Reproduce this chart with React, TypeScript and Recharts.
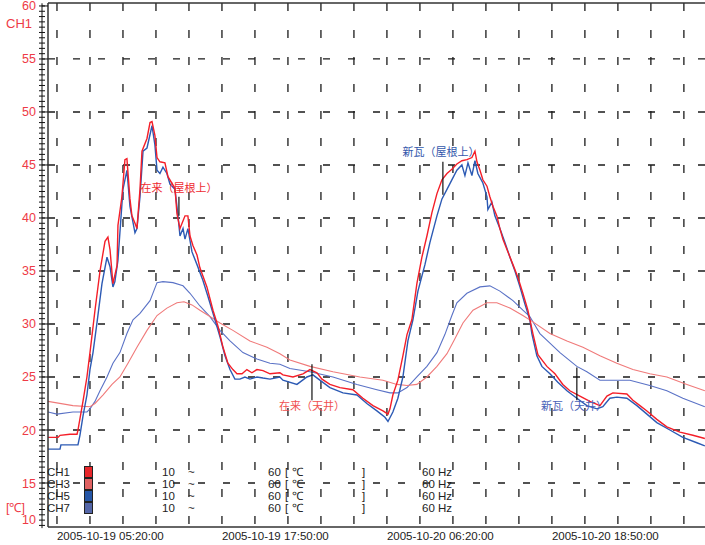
import {
  LineChart,
  Line,
  XAxis,
  YAxis,
  CartesianGrid,
  ReferenceLine,
  ReferenceDot,
} from "recharts";

// hours since 2005-10-19 05:20
const timeLabels = ["2005-10-19 05:20:00", "2005-10-19 17:50:00", "2005-10-20 06:20:00", "2005-10-20 18:50:00"];
const labelHours = [0, 12.5, 25, 37.5];
const gridHours = [0, 2.5, 5, 7.5, 10, 12.5, 15, 17.5, 20, 22.5, 25, 27.5, 30, 32.5, 35, 37.5, 40, 42.5, 45, 47.5];
const gridTemps = [15, 20, 25, 30, 35, 40, 45, 50, 55];

// CH1 在来(屋根上)
const ch1Time = [-0.68, 0.08, 0.23, 0.98, 1.52, 1.59, 1.97, 2.27, 2.5, 2.88, 3.26, 3.64, 3.86, 4.02, 4.24, 4.55, 4.62, 4.92, 5.15, 5.3, 5.53, 5.68, 5.91, 6.06, 6.29, 6.44, 6.82, 7.05, 7.2, 7.42, 7.58, 7.8, 8.18, 8.41, 8.94, 9.09, 9.32, 9.7, 9.92, 10.08, 10.3, 10.61, 10.83, 11.36, 11.82, 12.2, 12.58, 12.95, 13.33, 13.64, 14.02, 14.39, 14.77, 15.15, 15.61, 16.14, 16.89, 17.12, 17.88, 18.64, 19.17, 19.7, 20.08, 20.68, 21.44, 22.42, 23.18, 23.94, 24.7, 25.08, 25.23, 25.45, 25.83, 26.21, 26.52, 26.89, 27.27, 27.65, 28.03, 28.41, 28.79, 29.17, 29.55, 29.92, 30.3, 30.68, 31.06, 31.44, 31.67, 31.82, 32.05, 32.27, 32.58, 32.8, 33.03, 33.33, 33.56, 33.79, 34.17, 34.55, 34.92, 35.3, 35.68, 36.06, 36.44, 37.12, 37.73, 38.33, 38.86, 39.62, 40.38, 41.14, 41.67, 42.12, 43.18, 43.64, 44.17, 44.7, 45.45, 46.21, 47.2, 48.18, 49.09];
const ch1Temp = [19.3, 19.3, 19.5, 19.6, 19.6, 20.0, 22.7, 25.0, 27.3, 31.3, 35.0, 37.8, 38.2, 37.0, 33.8, 35.5, 39.3, 42.0, 45.5, 45.6, 41.8, 40.2, 39.5, 39.0, 42.7, 46.3, 47.5, 49.0, 49.1, 47.8, 45.7, 45.3, 45.2, 43.9, 42.8, 40.4, 39.0, 40.2, 40.2, 38.3, 37.4, 36.5, 35.3, 33.5, 31.3, 29.8, 27.8, 26.3, 25.7, 25.3, 25.3, 25.7, 25.4, 25.7, 25.6, 25.3, 25.4, 25.2, 25.0, 25.3, 25.7, 25.4, 24.8, 24.3, 24.0, 23.8, 23.0, 22.3, 21.8, 21.5, 22.0, 23.3, 24.7, 27.0, 29.0, 30.4, 33.8, 36.3, 38.3, 40.5, 42.3, 43.6, 44.2, 44.6, 45.1, 45.4, 45.5, 45.7, 46.3, 45.3, 44.5, 43.6, 43.0, 42.0, 41.1, 40.2, 39.0, 38.0, 36.8, 35.6, 34.4, 32.9, 31.3, 29.1, 27.1, 26.0, 25.3, 24.3, 23.7, 23.2, 22.7, 22.3, 23.2, 23.5, 23.4, 22.8, 22.3, 21.8, 21.0, 20.3, 19.8, 19.5, 19.2];

// CH3 在来(天井)
const ch3Time = [-0.68, 1.21, 2.5, 2.88, 3.48, 4.17, 4.77, 5.38, 6.06, 6.82, 7.58, 8.33, 9.09, 9.62, 10.23, 10.83, 11.59, 12.35, 13.33, 14.62, 15.91, 16.89, 17.65, 19.17, 20.91, 22.95, 24.7, 25.76, 26.52, 27.27, 28.03, 28.79, 29.55, 30.15, 30.76, 31.52, 32.58, 33.33, 34.32, 35.3, 36.06, 37.35, 38.64, 39.85, 41.14, 42.42, 43.64, 44.92, 46.21, 47.73, 49.09];
const ch3Temp = [22.7, 22.3, 22.2, 22.5, 23.3, 24.3, 25.0, 26.3, 27.8, 29.4, 30.8, 31.5, 32.0, 32.1, 31.8, 31.3, 30.7, 30.1, 29.4, 28.4, 27.8, 27.2, 26.6, 26.0, 25.5, 25.0, 24.7, 24.3, 24.2, 24.3, 25.0, 26.0, 27.2, 28.6, 30.1, 31.3, 32.0, 32.0, 31.5, 30.8, 30.2, 29.1, 28.4, 27.8, 27.0, 26.3, 25.7, 25.3, 25.0, 24.3, 23.7];

// CH5 新瓦(屋根上)
const ch5Time = [-0.68, 0.23, 0.3, 1.59, 1.74, 1.97, 2.27, 2.5, 2.73, 3.03, 3.41, 3.79, 4.02, 4.24, 4.39, 4.62, 5.0, 5.3, 5.53, 5.91, 6.06, 6.29, 6.52, 6.82, 7.2, 7.42, 7.58, 7.8, 8.03, 8.33, 8.56, 8.94, 9.17, 9.32, 9.55, 9.7, 9.92, 10.23, 10.61, 11.06, 11.44, 11.97, 12.35, 12.73, 13.11, 13.48, 13.86, 14.24, 14.62, 15.15, 15.61, 16.14, 16.89, 17.12, 18.18, 18.94, 19.39, 19.92, 20.68, 21.67, 22.73, 23.48, 24.24, 24.85, 25.08, 25.45, 25.83, 26.21, 26.59, 26.97, 27.35, 27.88, 28.26, 28.79, 29.17, 29.55, 29.92, 30.3, 30.68, 30.91, 31.14, 31.44, 31.67, 31.89, 32.27, 32.58, 32.65, 32.95, 33.18, 33.56, 33.94, 34.32, 34.7, 35.08, 35.45, 35.83, 35.98, 36.36, 36.74, 37.35, 37.95, 38.64, 39.39, 40.15, 40.91, 41.36, 41.89, 42.42, 43.18, 43.94, 44.7, 45.45, 46.44, 47.42, 48.48, 49.09];
const ch5Temp = [18.2, 18.2, 18.6, 18.6, 19.5, 21.3, 23.3, 25.7, 27.3, 30.1, 33.8, 36.3, 35.4, 33.5, 34.0, 36.0, 42.7, 44.5, 41.1, 38.6, 39.0, 42.0, 46.3, 46.6, 48.7, 46.9, 44.5, 44.2, 44.8, 44.2, 43.2, 42.7, 40.2, 38.3, 39.0, 38.0, 39.0, 36.8, 35.6, 34.1, 32.6, 30.4, 28.8, 27.0, 25.7, 24.8, 24.8, 25.0, 24.8, 25.0, 24.9, 24.8, 25.0, 24.7, 24.3, 25.0, 25.2, 24.7, 24.0, 23.5, 23.3, 22.5, 21.8, 21.2, 20.8, 21.7, 23.0, 25.0, 28.4, 30.4, 33.1, 35.6, 37.7, 40.2, 41.8, 42.7, 43.6, 44.5, 45.0, 44.0, 45.2, 44.0, 45.4, 44.2, 43.3, 42.0, 40.8, 41.5, 40.2, 39.0, 37.7, 36.3, 35.0, 33.5, 31.9, 30.4, 29.1, 27.0, 26.0, 25.3, 24.5, 23.7, 23.0, 22.3, 22.0, 22.2, 23.0, 23.1, 23.0, 22.3, 21.5, 20.7, 20.0, 19.3, 18.8, 18.5];

// CH7 新瓦(天井)
const ch7Time = [-0.68, 0, 1.21, 2.27, 2.5, 2.88, 3.26, 3.79, 4.24, 4.77, 5.3, 5.76, 6.29, 7.05, 7.58, 8.03, 8.79, 9.55, 10.08, 10.83, 11.59, 12.35, 13.11, 14.09, 15.15, 16.14, 16.89, 17.65, 19.17, 20.91, 22.73, 24.24, 25.23, 25.83, 26.52, 27.27, 28.03, 28.79, 29.39, 29.92, 30.3, 31.06, 32.05, 32.8, 33.56, 34.55, 35.3, 35.83, 36.59, 37.35, 38.11, 39.39, 40.15, 41.14, 43.41, 44.92, 46.21, 47.42, 49.09];
const ch7Temp = [21.7, 21.5, 21.7, 21.7, 22.0, 22.7, 23.7, 25.0, 26.3, 27.3, 29.1, 30.4, 31.0, 32.2, 33.9, 34.0, 33.9, 33.6, 32.9, 31.7, 30.7, 29.4, 28.4, 27.3, 26.7, 26.3, 26.2, 25.8, 25.5, 25.0, 24.3, 23.8, 23.5, 23.5, 24.0, 25.0, 26.0, 27.3, 29.0, 30.8, 32.0, 32.9, 33.5, 33.6, 33.1, 32.2, 31.3, 30.7, 29.1, 28.2, 27.3, 26.0, 25.5, 24.7, 24.7, 24.2, 23.7, 23.0, 22.2];

const toRows = (t: number[], v: number[]) => t.map((x, i) => ({ t: x, v: v[i] }));

const channels = [
  { name: "CH1", key: "ch1", data: toRows(ch1Time, ch1Temp), line: "#f41e28", swatch: "#e8262a", width: 1.4 },
  { name: "CH3", key: "ch3", data: toRows(ch3Time, ch3Temp), line: "#f07a7a", swatch: "#e06262", width: 1.1 },
  { name: "CH5", key: "ch5", data: toRows(ch5Time, ch5Temp), line: "#2c5ab4", swatch: "#2656a6", width: 1.4 },
  { name: "CH7", key: "ch7", data: toRows(ch7Time, ch7Temp), line: "#5a72c6", swatch: "#5466a8", width: 1.1 },
];
const drawOrder = ["ch7", "ch3", "ch5", "ch1"];

const notes = [
  { text: "在来（屋根上）", color: "#ee2a30", x: 9.24, y: 42.8, lineX: 9.24, from: 42.0, to: 40.2 },
  { text: "新瓦（屋根上）", color: "#3358ac", x: 29.09, y: 46.2, lineX: 29.24, from: 45.3, to: 42.2 },
  { text: "在来（天井）", color: "#f05050", x: 19.32, y: 22.3, lineX: 19.32, from: 26.2, to: 22.8 },
  { text: "新瓦（天井）", color: "#4a62b8", x: 39.17, y: 22.3, lineX: 39.39, from: 25.9, to: 22.8 },
];

const yTicks: number[] = [];
for (let v = 11; v <= 60; v += 0.5) yTicks.push(v);

const Y_MIN = 10.85;
const Y_MAX = 60.28;
const sans = "'Liberation Sans', Arial, sans-serif";
const cjk = "'Noto Sans CJK JP', sans-serif";

function TempTick(props: any) {
  const { x, y, payload } = props;
  const v = payload.value;
  const major = v % 5 === 0;
  const ax = x - 6;
  return (
    <g>
      <line x1={ax} y1={y - 2.7} x2={ax} y2={y + 2.7} stroke="#111" strokeWidth={1} />
      <line x1={ax - 3} y1={y} x2={ax + 3} y2={y} stroke="#111" strokeWidth={1} />
      {major && <line x1={ax} y1={y} x2={x} y2={y} stroke="#111" strokeWidth={1} />}
      {major && (
        <text x={ax - 6} y={y} dy="0.36em" textAnchor="end" fill="#ee3a46" fontSize={12.5} fontFamily={sans}>
          {v}
        </text>
      )}
    </g>
  );
}

function TimeTick(props: any) {
  const { x, y, payload } = props;
  const i = labelHours.indexOf(payload.value);
  return (
    <text x={x} y={y} dy="0.75em" textAnchor="start" fill="#222" fontSize={11.5} fontFamily={sans}>
      {timeLabels[i]}
    </text>
  );
}

const legendRowTop = [466, 478, 490, 502];

export default function App() {
  return (
    <div style={{ position: "absolute", left: 0, top: 0, width: 705, height: 545, background: "#fff", overflow: "hidden" }}>
      <LineChart width={705} height={545} margin={{ top: 3, right: 0, left: 0, bottom: 0 }}>
        <CartesianGrid vertical={false} horizontalValues={gridTemps} stroke="#1a1a1a" strokeWidth={1.3} strokeDasharray="7 18" />
        <CartesianGrid horizontal={false} verticalValues={gridHours} stroke="#1a1a1a" strokeWidth={1.3} strokeDasharray="8 19" />
        <XAxis
          type="number"
          dataKey="t"
          domain={[-0.68, 49.1]}
          ticks={labelHours}
          interval={0}
          allowDataOverflow
          height={18}
          tickLine={false}
          tickSize={0}
          tickMargin={4}
          axisLine={{ stroke: "#333", strokeWidth: 1.5 }}
          tick={<TimeTick />}
        />
        <YAxis
          type="number"
          domain={[Y_MIN, Y_MAX]}
          ticks={yTicks}
          interval={0}
          allowDataOverflow
          width={48}
          tickLine={false}
          tickSize={0}
          tickMargin={0}
          axisLine={{ stroke: "#333", strokeWidth: 1.5 }}
          tick={<TempTick />}
        />
        <ReferenceLine y={Y_MAX} stroke="#333" strokeWidth={1.5} />
        {drawOrder.map((k) => {
          const c = channels.find((ch) => ch.key === k)!;
          return (
            <Line
              key={c.key}
              data={c.data}
              dataKey="v"
              type="linear"
              stroke={c.line}
              strokeWidth={c.width}
              dot={false}
              isAnimationActive={false}
            />
          );
        })}
        {notes.map((n) => (
          <ReferenceLine
            key={"l" + n.text}
            segment={[
              { x: n.lineX, y: n.from },
              { x: n.lineX, y: n.to },
            ]}
            stroke="#111"
            strokeWidth={1.2}
          />
        ))}
        {notes.map((n) => (
          <ReferenceDot
            key={"t" + n.text}
            x={n.x}
            y={n.y}
            r={0}
            stroke="none"
            fill="none"
            label={{ value: n.text, position: "center", fill: n.color, fontSize: 11, fontFamily: cjk }}
          />
        ))}
      </LineChart>

      <div style={{ position: "absolute", left: 6, top: 16, color: "#ee3a46", fontFamily: sans, fontSize: 13 }}>CH1</div>
      <div style={{ position: "absolute", left: 6, top: 499, color: "#ee3a46", fontFamily: sans, fontSize: 12.5 }}>[℃]</div>
      <div style={{ position: "absolute", left: 22, top: 513, color: "#ee3a46", fontFamily: sans, fontSize: 12.5 }}>10</div>

      {channels.map((c, i) => (
        <div key={c.key} style={{ position: "absolute", left: 0, top: legendRowTop[i], height: 12, width: 705, fontFamily: sans, fontSize: 11.5, color: "#222", lineHeight: "12px" }}>
          <span style={{ position: "absolute", left: 47 }}>{c.name}</span>
          <span style={{ position: "absolute", left: 84, top: 0, width: 7, height: 10, background: c.swatch, border: "1px solid #222" }} />
          <span style={{ position: "absolute", left: 162 }}>10</span>
          <span style={{ position: "absolute", left: 188 }}>~</span>
          <span style={{ position: "absolute", left: 268 }}>60</span>
          <span style={{ position: "absolute", left: 285 }}>[</span>
          <span style={{ position: "absolute", left: 292 }}>℃</span>
          <span style={{ position: "absolute", left: 362 }}>]</span>
          <span style={{ position: "absolute", left: 422 }}>60 Hz</span>
        </div>
      ))}
    </div>
  );
}
